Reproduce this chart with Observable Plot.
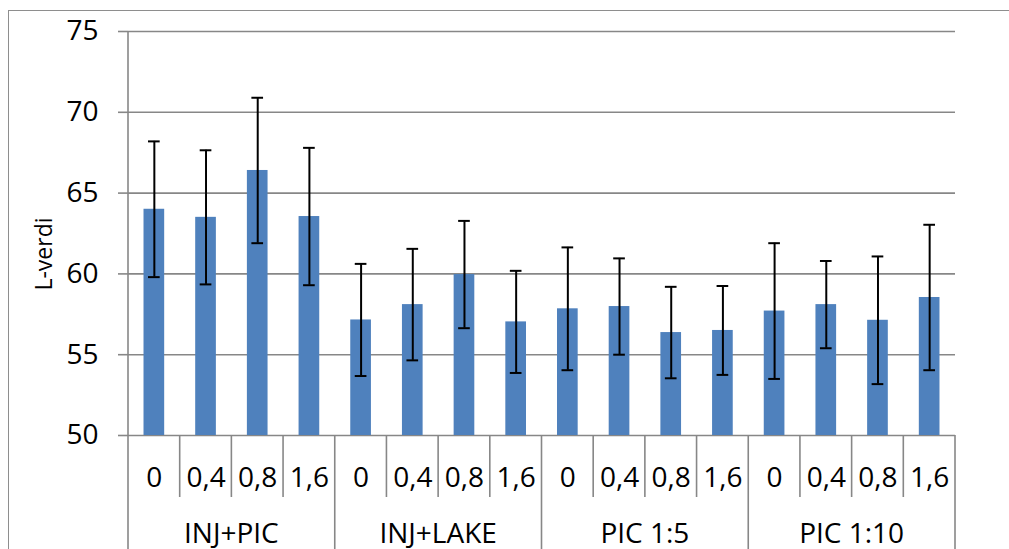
<!DOCTYPE html>
<html>
<head>
<meta charset="utf-8">
<script src="https://cdn.jsdelivr.net/npm/d3@7"></script>
<script src="https://cdn.jsdelivr.net/npm/@observablehq/plot@0.6"></script>
<style>
  html, body { margin: 0; padding: 0; background: #ffffff; }
  #wrap { position: relative; width: 1009px; height: 549px; overflow: hidden; background: #ffffff; }
  #frame { position: absolute; left: 8px; top: 10px; width: 1010px; height: 560px;
           border-left: 1.5px solid #8e8e8e; border-top: 1.5px solid #8e8e8e; pointer-events: none; }
  svg { display: block; }
</style>
</head>
<body>
<div id="wrap"><div id="chart"></div><div id="frame"></div></div>
<script>
// ---- data ----
const groups = ["INJ+PIC", "INJ+LAKE", "PIC 1:5", "PIC 1:10"];
const doses = ["0", "0,4", "0,8", "1,6"];
const values = [
  64.0, 63.5, 66.4, 63.55,
  57.15, 58.1, 59.96, 57.03,
  57.84, 57.98, 56.37, 56.5,
  57.7, 58.1, 57.13, 58.54
];
const errors = [
  4.2, 4.15, 4.5, 4.25,
  3.47, 3.45, 3.32, 3.16,
  3.8, 2.98, 2.83, 2.75,
  4.2, 2.7, 3.95, 4.5
];
const yTicks = [50, 55, 60, 65, 70, 75];
const yLabel = "L-verdi";

// ---- table built from arrays ----
const rows = [];
groups.forEach((g, gi) => doses.forEach((d, di) => {
  const i = gi * doses.length + di;
  rows.push({key: g + "|" + d, group: g, dose: d, value: values[i], lo: values[i] - errors[i], hi: values[i] + errors[i]});
}));
const keys = rows.map(r => r.key);

const gray = "#878787";
const W = 1009, H = 549;

const plot = Plot.plot({
  width: W,
  height: H,
  marginLeft: 128,
  marginRight: 54,
  marginTop: 31,
  marginBottom: 114,
  style: {fontFamily: "'Open Sans', sans-serif", fontSize: "28px", color: "black", background: "transparent"},
  x: {type: "band", domain: keys, paddingInner: 0.6, paddingOuter: 0.3, round: false, label: null},
  y: {domain: [50, 75], label: null},
  marks: [
    Plot.gridY(yTicks, {stroke: gray, strokeOpacity: 1, strokeWidth: 1.6}),
    Plot.axisY({ticks: yTicks, tickSize: 10, tickPadding: 20, fontSize: 28, stroke: gray, strokeWidth: 1.6, strokeOpacity: 1, label: null, fill: "black"}),
    Plot.barY(rows, {x: "key", y1: 50, y2: "value", fill: "#4f81bd"}),
    Plot.ruleX(rows, {x: "key", y1: "lo", y2: "hi", stroke: "black", strokeWidth: 2}),
    Plot.tickY(rows, {x: "key", y: "hi", stroke: "black", strokeWidth: 2, insetLeft: 4.5, insetRight: 4.5}),
    Plot.tickY(rows, {x: "key", y: "lo", stroke: "black", strokeWidth: 2, insetLeft: 4.5, insetRight: 4.5}),
    Plot.axisX({tickSize: 0, tickPadding: 32, fontSize: 28, tickFormat: k => k.split("|")[1], label: null})
  ]
});

document.getElementById("chart").appendChild(plot);

// ---- category table lines and group labels, positioned from Plot's own scales ----
const xs = plot.scale("x");
const ys = plot.scale("y");
const step = xs.step, bw = xs.bandwidth;
const off = (step - bw) / 2;
const svg = d3.select(plot);
const y0 = ys.apply(50);
const yTop = ys.apply(75);
const g = svg.append("g").attr("stroke", gray).attr("stroke-width", 1.6);
// left value axis line
const xLeft = xs.apply(keys[0]) - off;
g.append("line").attr("x1", xLeft).attr("x2", xLeft).attr("y1", yTop).attr("y2", y0);
keys.forEach((k, i) => {
  const xb = xs.apply(k) - off;
  const isGroupEdge = i % doses.length === 0;
  g.append("line").attr("x1", xb).attr("x2", xb).attr("y1", y0).attr("y2", isGroupEdge ? H : y0 + 62);
});
const xEnd = xs.apply(keys[keys.length - 1]) + bw + off;
g.append("line").attr("x1", xEnd).attr("x2", xEnd).attr("y1", y0).attr("y2", H);

const gl = svg.append("g").attr("font-size", 28).attr("text-anchor", "middle").attr("fill", "black");
groups.forEach((grp, gi) => {
  const first = keys[gi * doses.length];
  const last = keys[gi * doses.length + doses.length - 1];
  const cx = ((xs.apply(first) - off) + (xs.apply(last) + bw + off)) / 2;
  gl.append("text").attr("x", cx).attr("y", y0 + 108).text(grp);
});

// y-axis title
svg.append("text")
  .attr("transform", `translate(52,${(yTop + y0) / 2 + 21}) rotate(-90)`)
  .attr("text-anchor", "middle")
  .attr("font-size", 23)
  .attr("fill", "black")
  .text(yLabel);
</script>
</body>
</html>
